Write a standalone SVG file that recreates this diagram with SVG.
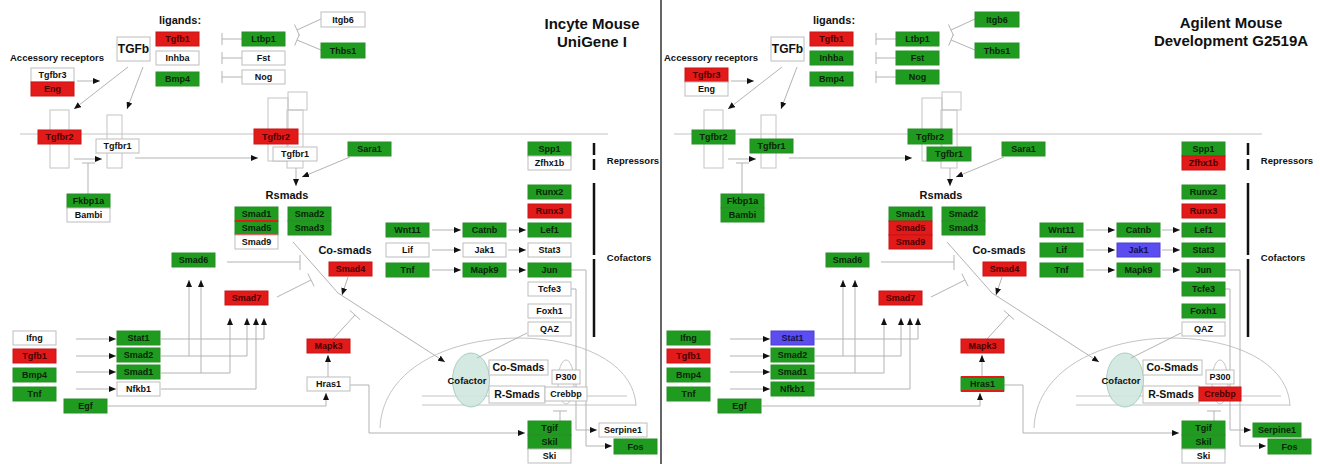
<svg xmlns="http://www.w3.org/2000/svg" width="1320" height="464" viewBox="0 0 1320 464">
<style>
.n rect{stroke-width:1}
.w rect{fill:#fff;stroke:#bdbdbd}
.g rect{fill:#1f9c1f;stroke:#2a8d2a}
.r rect{fill:#e31a1a;stroke:#c81414}
.b rect{fill:#5b4df0;stroke:#4a3ed0}
.n text{font-family:"Liberation Sans",Arial,sans-serif;font-weight:bold;font-size:9px;text-anchor:middle;fill:#111}
.r text{fill:#4a0000}.g text{fill:#0a240a}.b text{fill:#12104a}
.n .st{stroke:#e31a1a;stroke-width:2}
.conn path{fill:none;stroke:#b3b3b3;stroke-width:1}
.conn .a{marker-end:url(#arr)}
.h{font-family:"Liberation Sans",Arial,sans-serif;font-weight:bold;fill:#111;text-anchor:middle}
.s{fill:none;stroke:#c4c4c4;stroke-width:1}
.bar{stroke:#111;stroke-width:2.5}
</style>
<defs>
<marker id="arr" markerUnits="userSpaceOnUse" markerWidth="7" markerHeight="6" refX="7" refY="3" orient="auto"><path d="M0,0L7,3L0,6z" fill="#111"/></marker>
</defs>
<rect width="1320" height="464" fill="#fff"/>
<line x1="661" y1="0" x2="661" y2="464" stroke="#333" stroke-width="1.5"/>

<!-- LEFT PANEL structure -->
<g id="structure-left">
<path class="s" d="M20,134H608"/>
<rect class="s" x="50" y="110" width="19" height="58"/>
<rect class="s" x="107" y="115" width="15" height="53"/>
<rect class="s" x="268" y="98" width="20" height="63"/>
<rect class="s" x="288" y="92" width="19" height="18"/>
<rect class="s" x="287" y="110" width="16" height="58"/>
<path class="s" d="M380,428C385,312 632,312 636,406"/>
<path class="s" d="M422,396H627M422,405H636"/>
<ellipse class="s" cx="566" cy="382" rx="8" ry="22"/>
<ellipse cx="471" cy="380" rx="18.5" ry="27" fill="#cfe7df" stroke="#a7cfc3" fill-opacity="0.9"/>
<text class="h" x="467" y="384" font-size="9.5">Cofactor</text>
<path class="bar" d="M594,143V155M594,159V170M594,183V255M594,259V337"/>
<text class="h" x="180" y="24" font-size="11">ligands:</text>
<text class="h" x="57" y="61" font-size="9.5">Accessory receptors</text>
<text class="h" x="287" y="199" font-size="11">Rsmads</text>
<text class="h" x="345" y="254" font-size="11">Co-smads</text>
<text class="h" x="629" y="261" font-size="9.5">Cofactors</text>
<text class="h" x="633" y="164" font-size="9.5">Repressors</text>
<text class="h" x="592" y="29" font-size="15">Incyte Mouse</text>
<text class="h" x="592" y="47" font-size="15">UniGene I</text>
</g>

<g id="connectors-left" class="conn">
<path class="a" d="M77,81H100"/>
<path class="a" d="M128,67L74,109"/>
<path class="a" d="M143,67L127,109"/>
<path d="M222,39H242M222,33V45"/>
<path d="M222,58H242M222,52V64"/>
<path d="M222,77H242M222,71V83"/>
<path d="M321,19L297,30M294.5,24.5L299.5,35.5"/>
<path d="M321,50L297,40M299.3,34.5L294.7,45.5"/>
<path d="M88,194V163M82,163H95"/>
<path class="a" d="M74,159H102"/>
<path class="a" d="M135,158H258"/>
<path class="a" d="M350,157L302,177"/>
<path class="a" d="M296,168V186"/>
<path d="M227,262H300M300,255V270"/>
<path d="M277,297L311,280M307.9,273.7L314.1,286.3"/>
<path class="a" d="M293,242L338,293L445,362"/>
<path class="a" d="M348,277L342,295"/>
<path d="M333,339L355,315M349.8,310.3L360.2,319.7"/>
<path class="a" d="M328,377V355"/>
<path class="a" d="M108,406H326V393"/>
<path class="a" d="M76,339H116"/>
<path class="a" d="M76,356H116"/>
<path class="a" d="M76,372H116"/>
<path class="a" d="M76,389H116"/>
<path class="a" d="M161,339H264V318"/>
<path class="a" d="M161,356H247V318"/>
<path class="a" d="M189,356V280"/>
<path class="a" d="M161,373H230V318"/>
<path class="a" d="M201,373V280"/>
<path class="a" d="M161,389H256V318"/>
<path class="a" d="M432,230H461"/>
<path class="a" d="M432,250H461"/>
<path class="a" d="M432,270H461"/>
<path class="a" d="M508,230H526"/>
<path class="a" d="M508,250H526"/>
<path class="a" d="M508,270H526"/>
<path class="a" d="M571,270H586V446H612"/>
<path class="a" d="M571,289H576V430H597"/>
<path d="M527,333L477,358"/>
<path class="a" d="M350,385H369V433H525"/>
<path d="M560,421V411M553,411H567"/>
</g>

<g id="nodes-left">
<g id="L-Tgfb1-lig" class="n r" transform="translate(156,32)"><rect width="43" height="14"/><text x="21.5" y="10.3">Tgfb1</text></g>
<g id="L-Inhba" class="n w" transform="translate(156,51)"><rect width="43" height="14"/><text x="21.5" y="10.3">Inhba</text></g>
<g id="L-Bmp4-lig" class="n g" transform="translate(156,72)"><rect width="43" height="14"/><text x="21.5" y="10.3">Bmp4</text></g>
<g id="L-Ltbp1" class="n g" transform="translate(242,32)"><rect width="43" height="14"/><text x="21.5" y="10.3">Ltbp1</text></g>
<g id="L-Fst" class="n w" transform="translate(242,51)"><rect width="43" height="14"/><text x="21.5" y="10.3">Fst</text></g>
<g id="L-Nog" class="n w" transform="translate(242,70)"><rect width="43" height="14"/><text x="21.5" y="10.3">Nog</text></g>
<g id="L-Itgb6" class="n w" transform="translate(321,12)"><rect width="44" height="15"/><text x="22" y="10.8">Itgb6</text></g>
<g id="L-Thbs1" class="n g" transform="translate(321,43)"><rect width="44" height="15"/><text x="22" y="10.8">Thbs1</text></g>
<g id="L-TGFb" class="n w" transform="translate(117,37)"><rect width="33" height="24"/><text x="16.5" y="16.3" style="font-size:12px">TGFb</text></g>
<g id="L-Tgfbr3" class="n w" transform="translate(31,68)"><rect width="43" height="14"/><text x="21.5" y="10.3">Tgfbr3</text></g>
<g id="L-Eng" class="n r" transform="translate(31,82)"><rect width="43" height="14"/><text x="21.5" y="10.3">Eng</text></g>
<g id="L-Tgfbr2" class="n r" transform="translate(38,130)"><rect width="43" height="14"/><text x="21.5" y="10.3">Tgfbr2</text></g>
<g id="L-Tgfbr1" class="n w" transform="translate(96,139)"><rect width="43" height="14"/><text x="21.5" y="10.3">Tgfbr1</text></g>
<g id="L-Fkbp1a" class="n g" transform="translate(67,194)"><rect width="43" height="14"/><text x="21.5" y="10.3">Fkbp1a</text></g>
<g id="L-Bambi" class="n w" transform="translate(67,208)"><rect width="43" height="14"/><text x="21.5" y="10.3">Bambi</text></g>
<g id="L-Tgfbr2-b" class="n r" transform="translate(254,129)"><rect width="44" height="15"/><text x="22" y="10.8">Tgfbr2</text></g>
<g id="L-Tgfbr1-b" class="n w" transform="translate(273,147)"><rect width="44" height="14"/><text x="22" y="10.3">Tgfbr1</text></g>
<g id="L-Sara1" class="n g" transform="translate(348,142)"><rect width="43" height="14"/><text x="21.5" y="10.3">Sara1</text></g>
<g id="L-Spp1" class="n g" transform="translate(528,142)"><rect width="43" height="14"/><text x="21.5" y="10.3">Spp1</text></g>
<g id="L-Zfhx1b" class="n w" transform="translate(528,156)"><rect width="43" height="14"/><text x="21.5" y="10.3">Zfhx1b</text></g>
<g id="L-Runx2" class="n g" transform="translate(528,185)"><rect width="43" height="14"/><text x="21.5" y="10.3">Runx2</text></g>
<g id="L-Runx3" class="n r" transform="translate(528,204)"><rect width="43" height="14"/><text x="21.5" y="10.3">Runx3</text></g>
<g id="L-Wnt11" class="n g" transform="translate(386,223)"><rect width="43" height="14"/><text x="21.5" y="10.3">Wnt11</text></g>
<g id="L-Lif" class="n w" transform="translate(386,243)"><rect width="43" height="14"/><text x="21.5" y="10.3">Lif</text></g>
<g id="L-Tnf-co" class="n g" transform="translate(386,263)"><rect width="43" height="14"/><text x="21.5" y="10.3">Tnf</text></g>
<g id="L-Catnb" class="n g" transform="translate(463,223)"><rect width="43" height="14"/><text x="21.5" y="10.3">Catnb</text></g>
<g id="L-Jak1" class="n w" transform="translate(463,243)"><rect width="43" height="14"/><text x="21.5" y="10.3">Jak1</text></g>
<g id="L-Mapk9" class="n g" transform="translate(463,263)"><rect width="43" height="14"/><text x="21.5" y="10.3">Mapk9</text></g>
<g id="L-Lef1" class="n g" transform="translate(528,223)"><rect width="43" height="14"/><text x="21.5" y="10.3">Lef1</text></g>
<g id="L-Stat3" class="n w" transform="translate(528,243)"><rect width="43" height="14"/><text x="21.5" y="10.3">Stat3</text></g>
<g id="L-Jun" class="n g" transform="translate(528,263)"><rect width="43" height="14"/><text x="21.5" y="10.3">Jun</text></g>
<g id="L-Tcfe3" class="n w" transform="translate(528,282)"><rect width="43" height="14"/><text x="21.5" y="10.3">Tcfe3</text></g>
<g id="L-Foxh1" class="n w" transform="translate(528,304)"><rect width="43" height="14"/><text x="21.5" y="10.3">Foxh1</text></g>
<g id="L-QAZ" class="n w" transform="translate(528,322)"><rect width="43" height="14"/><text x="21.5" y="10.3">QAZ</text></g>
<g id="L-Smad1-rs" class="n g" transform="translate(235,207)"><rect width="43" height="14"/><text x="21.5" y="10.3">Smad1</text></g>
<g id="L-Smad5" class="n g" transform="translate(235,221)"><rect width="43" height="14"/><line class="st" x1="0" y1="0" x2="43" y2="0"/><line class="st" x1="0" y1="14" x2="43" y2="14"/><text x="21.5" y="10.3">Smad5</text></g>
<g id="L-Smad9" class="n w" transform="translate(235,235)"><rect width="43" height="14"/><text x="21.5" y="10.3">Smad9</text></g>
<g id="L-Smad2-rs" class="n g" transform="translate(288,207)"><rect width="43" height="14"/><text x="21.5" y="10.3">Smad2</text></g>
<g id="L-Smad3" class="n g" transform="translate(288,221)"><rect width="43" height="14"/><text x="21.5" y="10.3">Smad3</text></g>
<g id="L-Smad4" class="n r" transform="translate(329,262)"><rect width="43" height="14"/><text x="21.5" y="10.3">Smad4</text></g>
<g id="L-Smad6" class="n g" transform="translate(172,253)"><rect width="43" height="14"/><text x="21.5" y="10.3">Smad6</text></g>
<g id="L-Smad7" class="n r" transform="translate(225,291)"><rect width="43" height="14"/><text x="21.5" y="10.3">Smad7</text></g>
<g id="L-Ifng" class="n w" transform="translate(13,331)"><rect width="43" height="14"/><text x="21.5" y="10.3">Ifng</text></g>
<g id="L-Tgfb1-in" class="n r" transform="translate(13,349)"><rect width="43" height="14"/><text x="21.5" y="10.3">Tgfb1</text></g>
<g id="L-Bmp4-in" class="n g" transform="translate(13,368)"><rect width="43" height="14"/><text x="21.5" y="10.3">Bmp4</text></g>
<g id="L-Tnf-in" class="n g" transform="translate(13,387)"><rect width="43" height="14"/><text x="21.5" y="10.3">Tnf</text></g>
<g id="L-Egf" class="n g" transform="translate(64,399)"><rect width="43" height="14"/><text x="21.5" y="10.3">Egf</text></g>
<g id="L-Stat1" class="n g" transform="translate(117,331)"><rect width="43" height="14"/><text x="21.5" y="10.3">Stat1</text></g>
<g id="L-Smad2-in" class="n g" transform="translate(117,348)"><rect width="43" height="14"/><text x="21.5" y="10.3">Smad2</text></g>
<g id="L-Smad1-in" class="n g" transform="translate(117,365)"><rect width="43" height="14"/><text x="21.5" y="10.3">Smad1</text></g>
<g id="L-Nfkb1" class="n w" transform="translate(117,382)"><rect width="43" height="14"/><text x="21.5" y="10.3">Nfkb1</text></g>
<g id="L-Mapk3" class="n r" transform="translate(307,339)"><rect width="43" height="14"/><text x="21.5" y="10.3">Mapk3</text></g>
<g id="L-Hras1" class="n w" transform="translate(307,377)"><rect width="43" height="14"/><text x="21.5" y="10.3">Hras1</text></g>
<g id="L-CoSmads" class="n w" transform="translate(489,360)"><rect width="59" height="15"/><text x="29.5" y="11" style="font-size:10.5px">Co-Smads</text></g>
<g id="L-RSmads" class="n w" transform="translate(489,386)"><rect width="56" height="17"/><text x="28" y="12.2" style="font-size:10.5px">R-Smads</text></g>
<g id="L-P300" class="n w" transform="translate(552,370)"><rect width="28" height="14"/><text x="14" y="10.3">P300</text></g>
<g id="L-Crebbp" class="n w" transform="translate(545,387)"><rect width="42" height="14"/><text x="21" y="10.3">Crebbp</text></g>
<g id="L-Tgif" class="n g" transform="translate(528,421)"><rect width="43" height="14"/><text x="21.5" y="10.3">Tgif</text></g>
<g id="L-Skil" class="n g" transform="translate(528,435)"><rect width="43" height="14"/><text x="21.5" y="10.3">Skil</text></g>
<g id="L-Ski" class="n w" transform="translate(528,449)"><rect width="43" height="14"/><text x="21.5" y="10.3">Ski</text></g>
<g id="L-Serpine1" class="n w" transform="translate(599,423)"><rect width="48" height="14"/><text x="24" y="10.3">Serpine1</text></g>
<g id="L-Fos" class="n g" transform="translate(614,439)"><rect width="43" height="15"/><text x="21.5" y="10.8">Fos</text></g>
</g>

<!-- RIGHT PANEL structure -->
<g id="structure-right" transform="translate(654,0)">
<path class="s" d="M20,134H608"/>
<rect class="s" x="50" y="110" width="19" height="58"/>
<rect class="s" x="107" y="115" width="15" height="53"/>
<rect class="s" x="268" y="98" width="20" height="63"/>
<rect class="s" x="288" y="92" width="19" height="18"/>
<rect class="s" x="287" y="110" width="16" height="58"/>
<path class="s" d="M380,428C385,312 632,312 636,406"/>
<path class="s" d="M422,396H627M422,405H636"/>
<ellipse class="s" cx="566" cy="382" rx="8" ry="22"/>
<ellipse cx="471" cy="380" rx="18.5" ry="27" fill="#cfe7df" stroke="#a7cfc3" fill-opacity="0.9"/>
<text class="h" x="467" y="384" font-size="9.5">Cofactor</text>
<path class="bar" d="M594,143V155M594,159V170M594,183V255M594,259V337"/>
<text class="h" x="180" y="24" font-size="11">ligands:</text>
<text class="h" x="57" y="61" font-size="9.5">Accessory receptors</text>
<text class="h" x="287" y="199" font-size="11">Rsmads</text>
<text class="h" x="345" y="254" font-size="11">Co-smads</text>
<text class="h" x="629" y="261" font-size="9.5">Cofactors</text>
<text class="h" x="633" y="164" font-size="9.5">Repressors</text>
</g>
<text class="h" x="1231" y="28" font-size="15">Agilent Mouse</text>
<text class="h" x="1231" y="46" font-size="15">Development G2519A</text>

<g id="connectors-right" class="conn" transform="translate(654,0)">
<path class="a" d="M77,81H100"/>
<path class="a" d="M128,67L74,109"/>
<path class="a" d="M143,67L127,109"/>
<path d="M222,39H242M222,33V45"/>
<path d="M222,58H242M222,52V64"/>
<path d="M222,77H242M222,71V83"/>
<path d="M321,19L297,30M294.5,24.5L299.5,35.5"/>
<path d="M321,50L297,40M299.3,34.5L294.7,45.5"/>
<path d="M88,194V163M82,163H95"/>
<path class="a" d="M74,159H102"/>
<path class="a" d="M135,158H258"/>
<path class="a" d="M350,157L302,177"/>
<path class="a" d="M296,168V186"/>
<path d="M227,262H300M300,255V270"/>
<path d="M277,297L311,280M307.9,273.7L314.1,286.3"/>
<path class="a" d="M293,242L338,293L445,362"/>
<path class="a" d="M348,277L342,295"/>
<path d="M333,339L355,315M349.8,310.3L360.2,319.7"/>
<path class="a" d="M328,377V355"/>
<path class="a" d="M108,406H326V393"/>
<path class="a" d="M76,339H116"/>
<path class="a" d="M76,356H116"/>
<path class="a" d="M76,372H116"/>
<path class="a" d="M76,389H116"/>
<path class="a" d="M161,339H264V318"/>
<path class="a" d="M161,356H247V318"/>
<path class="a" d="M189,356V280"/>
<path class="a" d="M161,373H230V318"/>
<path class="a" d="M201,373V280"/>
<path class="a" d="M161,389H256V318"/>
<path class="a" d="M432,230H461"/>
<path class="a" d="M432,250H461"/>
<path class="a" d="M432,270H461"/>
<path class="a" d="M508,230H526"/>
<path class="a" d="M508,250H526"/>
<path class="a" d="M508,270H526"/>
<path class="a" d="M571,270H586V446H612"/>
<path class="a" d="M571,289H576V430H597"/>
<path d="M527,333L477,358"/>
<path class="a" d="M350,385H369V433H525"/>
<path d="M560,421V411M553,411H567"/>
</g>

<g id="nodes-right">
<g id="R-Tgfb1-lig" class="n r" transform="translate(810,32)"><rect width="43" height="14"/><text x="21.5" y="10.3">Tgfb1</text></g>
<g id="R-Inhba" class="n g" transform="translate(810,51)"><rect width="43" height="14"/><text x="21.5" y="10.3">Inhba</text></g>
<g id="R-Bmp4-lig" class="n g" transform="translate(810,72)"><rect width="43" height="14"/><text x="21.5" y="10.3">Bmp4</text></g>
<g id="R-Ltbp1" class="n g" transform="translate(896,32)"><rect width="43" height="14"/><text x="21.5" y="10.3">Ltbp1</text></g>
<g id="R-Fst" class="n g" transform="translate(896,51)"><rect width="43" height="14"/><text x="21.5" y="10.3">Fst</text></g>
<g id="R-Nog" class="n g" transform="translate(896,70)"><rect width="43" height="14"/><text x="21.5" y="10.3">Nog</text></g>
<g id="R-Itgb6" class="n g" transform="translate(975,12)"><rect width="44" height="15"/><text x="22" y="10.8">Itgb6</text></g>
<g id="R-Thbs1" class="n g" transform="translate(975,43)"><rect width="44" height="15"/><text x="22" y="10.8">Thbs1</text></g>
<g id="R-TGFb" class="n w" transform="translate(771,37)"><rect width="33" height="24"/><text x="16.5" y="16.3" style="font-size:12px">TGFb</text></g>
<g id="R-Tgfbr3" class="n r" transform="translate(685,68)"><rect width="43" height="14"/><text x="21.5" y="10.3">Tgfbr3</text></g>
<g id="R-Eng" class="n w" transform="translate(685,82)"><rect width="43" height="14"/><text x="21.5" y="10.3">Eng</text></g>
<g id="R-Tgfbr2" class="n g" transform="translate(692,130)"><rect width="43" height="14"/><text x="21.5" y="10.3">Tgfbr2</text></g>
<g id="R-Tgfbr1" class="n g" transform="translate(750,139)"><rect width="43" height="14"/><text x="21.5" y="10.3">Tgfbr1</text></g>
<g id="R-Fkbp1a" class="n g" transform="translate(721,194)"><rect width="43" height="14"/><text x="21.5" y="10.3">Fkbp1a</text></g>
<g id="R-Bambi" class="n g" transform="translate(721,208)"><rect width="43" height="14"/><text x="21.5" y="10.3">Bambi</text></g>
<g id="R-Tgfbr2-b" class="n g" transform="translate(908,129)"><rect width="44" height="15"/><text x="22" y="10.8">Tgfbr2</text></g>
<g id="R-Tgfbr1-b" class="n g" transform="translate(927,147)"><rect width="44" height="14"/><text x="22" y="10.3">Tgfbr1</text></g>
<g id="R-Sara1" class="n g" transform="translate(1002,142)"><rect width="43" height="14"/><text x="21.5" y="10.3">Sara1</text></g>
<g id="R-Spp1" class="n g" transform="translate(1182,142)"><rect width="43" height="14"/><text x="21.5" y="10.3">Spp1</text></g>
<g id="R-Zfhx1b" class="n r" transform="translate(1182,156)"><rect width="43" height="14"/><text x="21.5" y="10.3">Zfhx1b</text></g>
<g id="R-Runx2" class="n g" transform="translate(1182,185)"><rect width="43" height="14"/><text x="21.5" y="10.3">Runx2</text></g>
<g id="R-Runx3" class="n r" transform="translate(1182,204)"><rect width="43" height="14"/><text x="21.5" y="10.3">Runx3</text></g>
<g id="R-Wnt11" class="n g" transform="translate(1040,223)"><rect width="43" height="14"/><text x="21.5" y="10.3">Wnt11</text></g>
<g id="R-Lif" class="n g" transform="translate(1040,243)"><rect width="43" height="14"/><text x="21.5" y="10.3">Lif</text></g>
<g id="R-Tnf-co" class="n g" transform="translate(1040,263)"><rect width="43" height="14"/><text x="21.5" y="10.3">Tnf</text></g>
<g id="R-Catnb" class="n g" transform="translate(1117,223)"><rect width="43" height="14"/><text x="21.5" y="10.3">Catnb</text></g>
<g id="R-Jak1" class="n b" transform="translate(1117,243)"><rect width="43" height="14"/><text x="21.5" y="10.3">Jak1</text></g>
<g id="R-Mapk9" class="n g" transform="translate(1117,263)"><rect width="43" height="14"/><text x="21.5" y="10.3">Mapk9</text></g>
<g id="R-Lef1" class="n g" transform="translate(1182,223)"><rect width="43" height="14"/><text x="21.5" y="10.3">Lef1</text></g>
<g id="R-Stat3" class="n g" transform="translate(1182,243)"><rect width="43" height="14"/><text x="21.5" y="10.3">Stat3</text></g>
<g id="R-Jun" class="n g" transform="translate(1182,263)"><rect width="43" height="14"/><text x="21.5" y="10.3">Jun</text></g>
<g id="R-Tcfe3" class="n g" transform="translate(1182,282)"><rect width="43" height="14"/><text x="21.5" y="10.3">Tcfe3</text></g>
<g id="R-Foxh1" class="n g" transform="translate(1182,304)"><rect width="43" height="14"/><text x="21.5" y="10.3">Foxh1</text></g>
<g id="R-QAZ" class="n w" transform="translate(1182,322)"><rect width="43" height="14"/><text x="21.5" y="10.3">QAZ</text></g>
<g id="R-Smad1-rs" class="n g" transform="translate(889,207)"><rect width="43" height="14"/><text x="21.5" y="10.3">Smad1</text></g>
<g id="R-Smad5" class="n r" transform="translate(889,221)"><rect width="43" height="14"/><text x="21.5" y="10.3">Smad5</text></g>
<g id="R-Smad9" class="n r" transform="translate(889,235)"><rect width="43" height="14"/><text x="21.5" y="10.3">Smad9</text></g>
<g id="R-Smad2-rs" class="n g" transform="translate(942,207)"><rect width="43" height="14"/><text x="21.5" y="10.3">Smad2</text></g>
<g id="R-Smad3" class="n g" transform="translate(942,221)"><rect width="43" height="14"/><text x="21.5" y="10.3">Smad3</text></g>
<g id="R-Smad4" class="n r" transform="translate(983,262)"><rect width="43" height="14"/><text x="21.5" y="10.3">Smad4</text></g>
<g id="R-Smad6" class="n g" transform="translate(826,253)"><rect width="43" height="14"/><text x="21.5" y="10.3">Smad6</text></g>
<g id="R-Smad7" class="n r" transform="translate(879,291)"><rect width="43" height="14"/><text x="21.5" y="10.3">Smad7</text></g>
<g id="R-Ifng" class="n g" transform="translate(667,331)"><rect width="43" height="14"/><text x="21.5" y="10.3">Ifng</text></g>
<g id="R-Tgfb1-in" class="n r" transform="translate(667,349)"><rect width="43" height="14"/><text x="21.5" y="10.3">Tgfb1</text></g>
<g id="R-Bmp4-in" class="n g" transform="translate(667,368)"><rect width="43" height="14"/><text x="21.5" y="10.3">Bmp4</text></g>
<g id="R-Tnf-in" class="n g" transform="translate(667,387)"><rect width="43" height="14"/><text x="21.5" y="10.3">Tnf</text></g>
<g id="R-Egf" class="n g" transform="translate(718,399)"><rect width="43" height="14"/><text x="21.5" y="10.3">Egf</text></g>
<g id="R-Stat1" class="n b" transform="translate(771,331)"><rect width="43" height="14"/><text x="21.5" y="10.3">Stat1</text></g>
<g id="R-Smad2-in" class="n g" transform="translate(771,348)"><rect width="43" height="14"/><text x="21.5" y="10.3">Smad2</text></g>
<g id="R-Smad1-in" class="n g" transform="translate(771,365)"><rect width="43" height="14"/><text x="21.5" y="10.3">Smad1</text></g>
<g id="R-Nfkb1" class="n g" transform="translate(771,382)"><rect width="43" height="14"/><text x="21.5" y="10.3">Nfkb1</text></g>
<g id="R-Mapk3" class="n r" transform="translate(961,339)"><rect width="43" height="14"/><text x="21.5" y="10.3">Mapk3</text></g>
<g id="R-Hras1" class="n g" transform="translate(961,377)"><rect width="43" height="14"/><line class="st" x1="0" y1="0" x2="43" y2="0"/><line class="st" x1="0" y1="14" x2="43" y2="14"/><text x="21.5" y="10.3">Hras1</text></g>
<g id="R-CoSmads" class="n w" transform="translate(1143,360)"><rect width="59" height="15"/><text x="29.5" y="11" style="font-size:10.5px">Co-Smads</text></g>
<g id="R-RSmads" class="n w" transform="translate(1143,386)"><rect width="56" height="17"/><text x="28" y="12.2" style="font-size:10.5px">R-Smads</text></g>
<g id="R-P300" class="n w" transform="translate(1206,370)"><rect width="28" height="14"/><text x="14" y="10.3">P300</text></g>
<g id="R-Crebbp" class="n r" transform="translate(1199,387)"><rect width="42" height="14"/><text x="21" y="10.3">Crebbp</text></g>
<g id="R-Tgif" class="n g" transform="translate(1182,421)"><rect width="43" height="14"/><text x="21.5" y="10.3">Tgif</text></g>
<g id="R-Skil" class="n g" transform="translate(1182,435)"><rect width="43" height="14"/><text x="21.5" y="10.3">Skil</text></g>
<g id="R-Ski" class="n w" transform="translate(1182,449)"><rect width="43" height="14"/><text x="21.5" y="10.3">Ski</text></g>
<g id="R-Serpine1" class="n g" transform="translate(1253,423)"><rect width="48" height="14"/><text x="24" y="10.3">Serpine1</text></g>
<g id="R-Fos" class="n g" transform="translate(1268,439)"><rect width="43" height="15"/><text x="21.5" y="10.8">Fos</text></g>
</g>
</svg>
